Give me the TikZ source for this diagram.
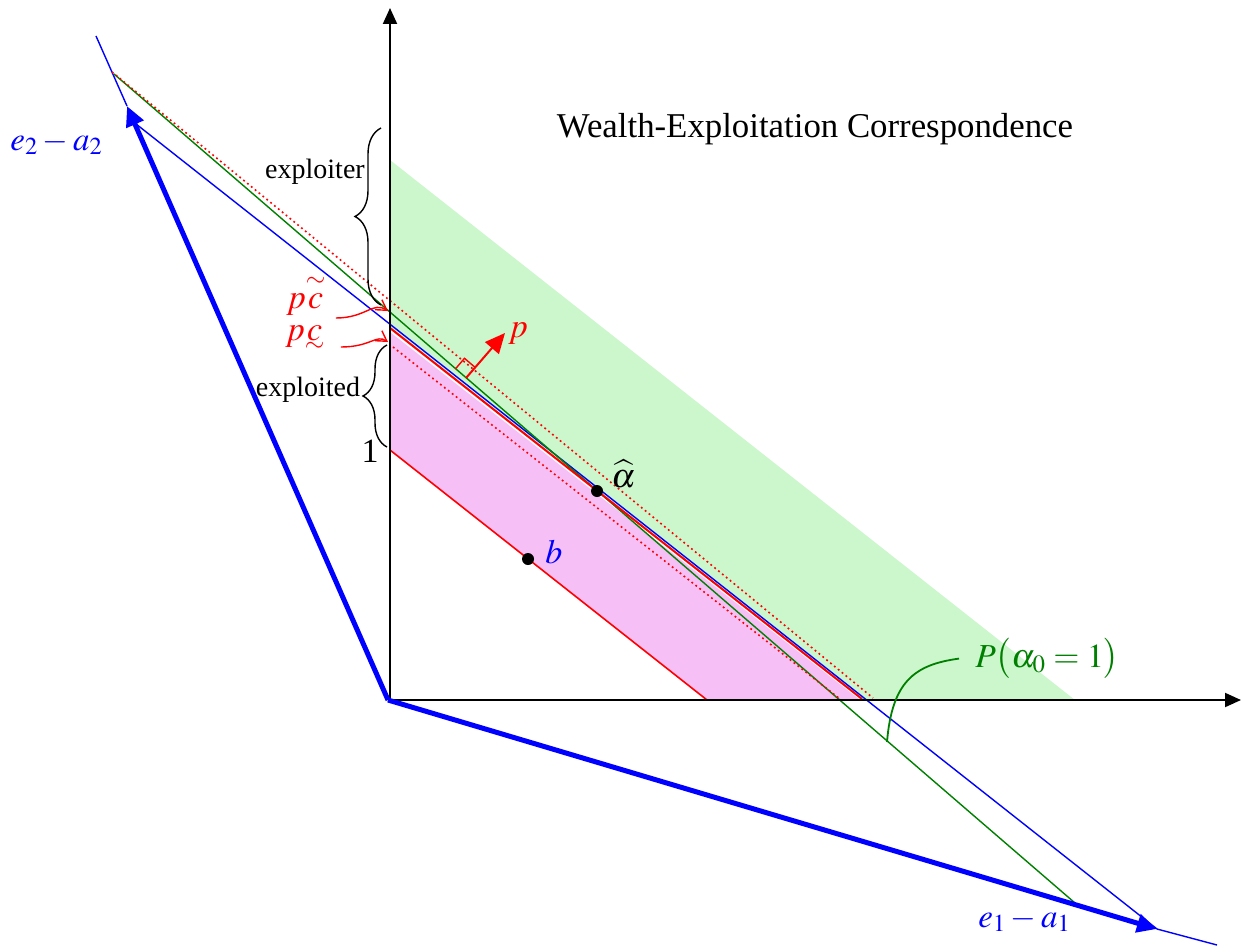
\documentclass[tikz,border=0pt]{standalone}
\usepackage{amsmath}
\usepackage{mathptmx}
\usepackage[no-math]{fontspec}
\setmainfont{Liberation Serif}
\usetikzlibrary{arrows.meta,decorations.pathreplacing}
\definecolor{dkgreen}{RGB}{0,128,0}
\definecolor{vblue}{RGB}{0,0,255}
\definecolor{lgreen}{RGB}{204,246,204}
\definecolor{lpink}{RGB}{246,192,246}
\newcommand{\undertil}[1]{\mathord{\vtop{\offinterlineskip\halign{\hfil##\hfil\cr$#1$\cr\noalign{\kern0.8pt}$\scriptstyle\sim$\cr}}}}
\begin{document}
\begin{tikzpicture}[x=0.5pt,y=-0.5pt,
  thinline/.style={line width=0.7pt},
  axisline/.style={line width=1pt,-{Triangle[length=8pt,width=7pt]}},
  vecline/.style={vblue,line width=2.5pt,-{Triangle[length=10pt,width=9pt]}},
  lab/.style={inner sep=0pt,anchor=base west},
  mathlab/.style={lab,font=\fontsize{17}{20}\selectfont},
  word/.style={inner sep=0pt,font=\fontsize{14}{16}\selectfont},
  dotpt/.style={circle,fill=black,inner sep=0pt,minimum size=6pt},
  bracestyle/.style={decorate,thinline},
  pcarrow/.style={red,thinline,-{Straight Barb[length=5pt,width=6pt]}}
]
\useasboundingbox (0,0) rectangle (1251,947);
% key points
\coordinate (O) at (390,700);
\coordinate (Ov) at (388,700);
\coordinate (E2) at (127,106);
\coordinate (E1) at (1157,929);
\coordinate (E2x) at (96,36);
\coordinate (E1x) at (1217,945);
\coordinate (Bs) at (131,120);
\coordinate (Gs) at (114,74);
\coordinate (Ge) at (1075,903);
\coordinate (Rs) at (112,72);
\coordinate (Re) at (873,698);
\coordinate (RUs) at (390,328);
\coordinate (RUe) at (862,699);
\coordinate (RDs) at (393,347);
\coordinate (RDe) at (840,699);
\coordinate (RLs) at (390,450);
\coordinate (RLe) at (707,700);
\coordinate (Ytop) at (390,8);
\coordinate (Xend) at (1241,700);
% regions
\fill[lgreen] (390,160) -- (1075,700) -- (862,700) -- (390,327) -- cycle;
\fill[lpink] (390,332) -- (860,700) -- (707,700) -- (390,450) -- cycle;
% lines
\draw[vblue,thinline] (E2) -- (E2x);
\draw[vblue,thinline] (E1) -- (E1x);
\draw[vblue,thinline] (Bs) -- (E1);
\draw[dkgreen,thinline] (Gs) -- (Ge);
\draw[red,line width=0.8pt,dash pattern=on 0.9pt off 1.6pt] (Rs) -- (Re);
\draw[red,line width=1pt] (RUs) -- (RUe);
\draw[red,line width=0.8pt,dash pattern=on 0.9pt off 1.6pt] (RDs) -- (RDe);
\draw[red,line width=0.8pt] (RLs) -- (RLe);
% axes
\draw[axisline] (O) -- (Ytop);
\draw[axisline] (O) -- (Xend);
% vectors
\draw[vecline] (Ov) -- (E2);
\draw[vecline] (Ov) -- (E1);
% normal p
\coordinate (Pb) at (466,378);
\coordinate (Pt) at (505,333);
\draw[red,thinline] (455.4,368.9) -- (464.5,358.3) -- (475.1,367.4);
\draw[red,line width=1pt,-{Triangle[length=10pt,width=9pt]}] (Pb) -- (Pt);
\node[mathlab,red] (plab) at (508,337) {$p$};
% points
\node[dotpt] (ahat) at (597,491) {};
\node[dotpt] (bpt) at (528,559) {};
\node[mathlab] (ahatlab) at (611,487) {$\widehat{\alpha}$};
\node[mathlab,vblue] (blab) at (545,563) {$b$};
% braces
\draw[bracestyle,decoration={brace,amplitude=13pt}] (381,305) -- (381,128);
\draw[bracestyle,decoration={brace,amplitude=12pt}] (387,447) -- (387,345);
\node[word] (exr) at (315,172) {exploiter};
\node[word] (exd) at (308,390) {exploited};
\node[inner sep=0pt,font=\fontsize{17}{20}\selectfont] (one) at (370,451) {1};
% pc labels
\node[mathlab,red] (pct) at (286,308) {$p\overset{\sim}{c}$};
\node[mathlab,red] (pcu) at (285,340) {$p\undertil{c}$};
\coordinate (Y1) at (388,311);
\coordinate (Y2) at (388,342);
\draw[pcarrow] ([xshift=5pt]pct.base east) ++(0,10) .. controls +(30,0) and +(-15,-10) .. (Y1);
\draw[pcarrow] ([xshift=8pt]pcu.base east) ++(0,7) .. controls +(30,0) and +(-12,-8) .. (Y2);
% P label
\node[lab,dkgreen,font=\fontsize{16.8}{20}\selectfont] (Plab) at (975,667) {$P\bigl(\alpha_0 = 1\bigr)$};
\coordinate (Pc) at (887,742);
\draw[dkgreen,line width=0.9pt] (Pc) .. controls +(5,-60) and +(-45,6) .. ([xshift=-8pt]Plab.west);
% vector labels
\node[lab,vblue,font=\fontsize{16.5}{20}\selectfont] (e2lab) at (10,150) {$e_2 - a_2$};
\node[lab,vblue,font=\fontsize{16.5}{20}\selectfont] (e1lab) at (978,927) {$e_1 - a_1$};
% title
\node[inner sep=0pt,font=\fontsize{17.4}{20}\selectfont] (title) at (815,129) {Wealth-Exploitation Correspondence};
\end{tikzpicture}
\end{document}
